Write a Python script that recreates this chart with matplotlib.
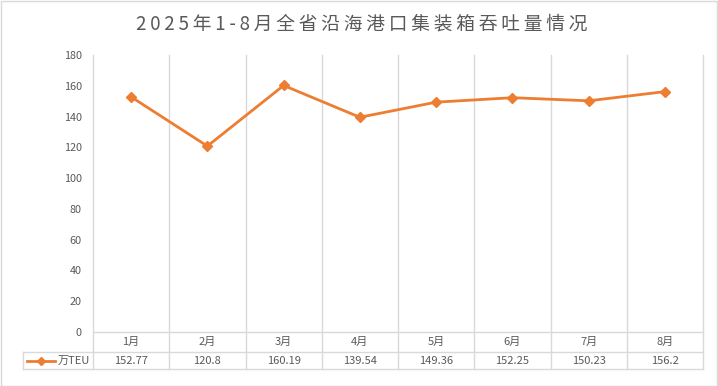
import matplotlib
matplotlib.use("Agg")
import matplotlib.pyplot as plt
from matplotlib.lines import Line2D
from matplotlib.patches import Rectangle

plt.rcParams['font.family'] = ['Noto Sans CJK SC', 'DejaVu Sans']

months = ["1月", "2月", "3月", "4月", "5月", "6月", "7月", "8月"]
values = [152.77, 120.8, 160.19, 139.54, 149.36, 152.25, 150.23, 156.2]
value_labels = ["152.77", "120.8", "160.19", "139.54", "149.36", "152.25", "150.23", "156.2"]
series_name = "万TEU"
title = "2025年1-8月全省沿海港口集装箱吞吐量情况"
yticks = [0, 20, 40, 60, 80, 100, 120, 140, 160, 180]

W, H = 718, 386
fig = plt.figure(figsize=(W / 100, H / 100), dpi=100)
fig.patch.set_facecolor("white")
fig.add_artist(Rectangle((0.5 / W, 0.5 / H), 1 - 1.5 / W, 1 - 1.5 / H, transform=fig.transFigure,
                         fill=False, edgecolor="#d9d9d9", linewidth=1))

x0, x1 = 93, 703
ytop, ybot = 55, 332
ax = fig.add_axes([x0 / W, 1 - ybot / H, (x1 - x0) / W, (ybot - ytop) / H])
ax.set_xlim(-0.5, len(months) - 0.5)
ax.set_ylim(0, 180)
for s in ax.spines.values():
    s.set_visible(False)
ax.set_xticks([])
ax.set_yticks(yticks)
ax.set_yticklabels([str(v) for v in yticks], fontsize=7.8, color="#595959")
ax.tick_params(axis="y", length=0, pad=8)

grid_c = "#d9d9d9"
xs = list(range(len(months)))
ax.plot(xs, values, color="#ED7D31", linewidth=2, marker="D", markersize=5, zorder=3)

ph = ybot - ytop
r1 = -(352 - ybot) / ph
r2 = -(369 - ybot) / ph
left_col = (23 - x0) / (x1 - x0) * len(months) - 0.5

trans = ax.get_xaxis_transform()
for b in [i - 0.5 for i in range(len(months) + 1)]:
    ax.add_line(Line2D([b, b], [r2, 1], transform=trans, color=grid_c, linewidth=1, clip_on=False, zorder=1))
ax.add_line(Line2D([-0.5, len(months) - 0.5], [0, 0], transform=trans, color=grid_c, linewidth=1, clip_on=False))
ax.add_line(Line2D([left_col, len(months) - 0.5], [r1, r1], transform=trans, color=grid_c, linewidth=1, clip_on=False))
ax.add_line(Line2D([left_col, len(months) - 0.5], [r2, r2], transform=trans, color=grid_c, linewidth=1, clip_on=False))
ax.add_line(Line2D([left_col, left_col], [r2, r1], transform=trans, color=grid_c, linewidth=1, clip_on=False))

for i, (m, v) in enumerate(zip(months, value_labels)):
    ax.text(i, r1 / 2, m, transform=trans, ha="center", va="center", fontsize=8, color="#595959")
    ax.text(i, (r1 + r2) / 2, v, transform=trans, ha="center", va="center", fontsize=8, color="#595959")

def px_to_data(px):
    return (px - x0) / (x1 - x0) * len(months) - 0.5

ym = (r1 + r2) / 2
ax.add_line(Line2D([px_to_data(27), px_to_data(55)], [ym, ym], transform=trans, color="#ED7D31",
                   linewidth=2, clip_on=False))
ax.add_line(Line2D([px_to_data(41)], [ym], transform=trans, color="#ED7D31", marker="D",
                   markersize=4.5, clip_on=False))
ax.text(px_to_data(58), ym, series_name, transform=trans, ha="left", va="center", fontsize=8, color="#595959")

spaced_title = "\u2009".join(title)
fig.text(362 / W, 1 - 24 / H, spaced_title, ha="center", va="center", fontsize=13.5, color="#595959")

fig.savefig("out.png", dpi=100)
